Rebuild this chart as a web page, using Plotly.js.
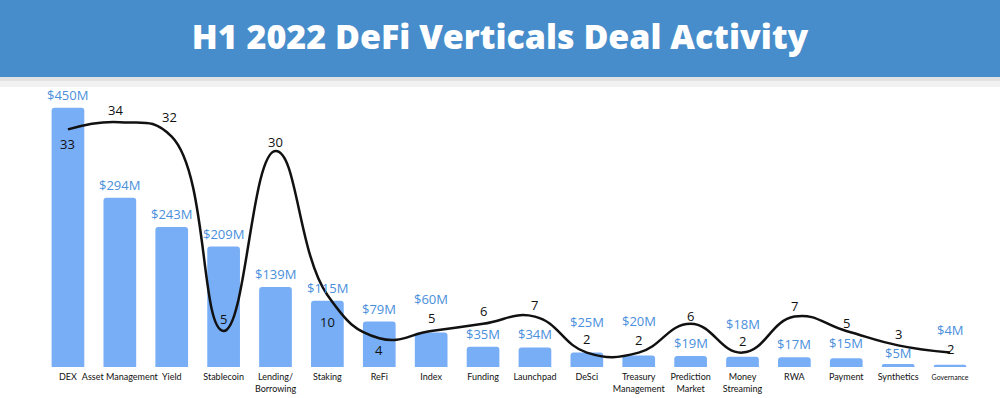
<!DOCTYPE html>
<html>
<head>
<meta charset="utf-8">
<script src="https://cdn.plot.ly/plotly-3.0.1.min.js"></script>
<style>html,body{margin:0;padding:0;background:#fff;}#chart{width:1000px;height:398px;}</style>
</head>
<body>
<div id="chart"></div>
<script>
var categories = ['DEX','Asset Management','Yield','Stablecoin','Lending/Borrowing','Staking','ReFi','Index','Funding','Launchpad','DeSci','Treasury Management','Prediction Market','Money Streaming','RWA','Payment','Synthetics','Governance'];
var tickLabels = ['DEX','Asset Management','Yield','Stablecoin','Lending/<br>Borrowing','Staking','ReFi','Index','Funding','Launchpad','DeSci','Treasury<br>Management','Prediction<br>Market','Money<br>Streaming','RWA','Payment','Synthetics','<span style="font-size:7px">Governance</span>'];
var fundingM = [450,294,243,209,139,115,79,60,35,34,25,20,19,18,17,15,5,4];
var dealCounts = [33,34,32,5,30,10,4,5,6,7,2,2,6,2,7,5,3,2];
// label placement offsets in px (styling only)
var fundLabelLift = [0,0,0,0,0,0,0,20,0,0,18,21,0,20,0,2,-2,22];
var dealLabelShiftY = [-15,12,20,12,9,-27,-12,13,13,12,14,13,8,12,11,8,11,4];
var dealLabelShiftX = [0,-4,-2,0,0,0,0,0,0,0,0,0,0,0,0,0,0,0];

var W = 1000, H = 398;
var m = {l:42, r:24, t:90, b:31};
var ph = H - m.t - m.b, pw = W - m.l - m.r;
var y1max = ph / 0.576;
var y2max = y1max / 12.5;

var bars = {
  type:'bar', x:categories, y:fundingM,
  marker:{color:'#78aef6', cornerradius:3},
  width:0.63,
  hoverinfo:'x+y'
};
var line = {
  type:'scatter', mode:'lines', x:categories, y:dealCounts, yaxis:'y2',
  line:{color:'#111', width:2.5, shape:'spline', smoothing:1.3}
};

var annotations = categories.map(function(c, i){
  return {x:c, y:fundingM[i], xref:'x', yref:'y', text:'$' + fundingM[i] + 'M', showarrow:false,
    yanchor:'bottom', yshift:2 + fundLabelLift[i],
    font:{family:'Open Sans, sans-serif', size:13, color:'#4a8fdc'}};
}).concat(categories.map(function(c, i){
  return {x:c, y:dealCounts[i], xref:'x', yref:'y2', text:String(dealCounts[i]), showarrow:false,
    yanchor:'middle', yshift:dealLabelShiftY[i], xshift:dealLabelShiftX[i],
    font:{family:'Open Sans, sans-serif', size:13, color:'#111'}};
}));

var layout = {
  width:W, height:H, margin:m,
  paper_bgcolor:'#ffffff', plot_bgcolor:'#ffffff',
  showlegend:false,
  title:{text:'H1 2022 DeFi Verticals Deal Activity', x:0.5, xref:'container', xanchor:'center', y:1-37/H, yref:'container', yanchor:'middle',
    font:{family:'Open Sans, sans-serif', size:34, weight:800, color:'#ffffff'}},
  xaxis:{range:[-0.5,17.5], tickvals:categories, ticktext:tickLabels, showline:false, showgrid:false, zeroline:false, ticks:'',
    tickfont:{family:'Lato, sans-serif', size:9, color:'#111'}, tickangle:0, automargin:false, ticklabelstandoff:3},
  yaxis:{range:[0,y1max], visible:false, showgrid:false, zeroline:false, fixedrange:true},
  yaxis2:{range:[0,y2max], overlaying:'y', side:'right', visible:false, showgrid:false, zeroline:false},
  bargap:0.37,
  annotations:annotations,
  shapes:[
    {type:'rect', xref:'paper', yref:'paper', x0:-m.l/pw, x1:1+m.r/pw, y0:1+(m.t-77)/ph, y1:1+m.t/ph+0.01, fillcolor:'#478dcb', line:{width:0}, layer:'below'},
    {type:'rect', xref:'paper', yref:'paper', x0:-m.l/pw, x1:1+m.r/pw, y0:1+(m.t-81)/ph, y1:1+(m.t-77)/ph, fillcolor:'#e2e2e2', line:{width:0}, layer:'below'},
    {type:'rect', xref:'paper', yref:'paper', x0:-m.l/pw, x1:1+m.r/pw, y0:1+(m.t-87)/ph, y1:1+(m.t-81)/ph, fillcolor:'#f1f1f1', line:{width:0}, layer:'below'}
  ]
};
Plotly.newPlot('chart', [bars, line], layout, {displayModeBar:false, staticPlot:true});
</script>
</body>
</html>
